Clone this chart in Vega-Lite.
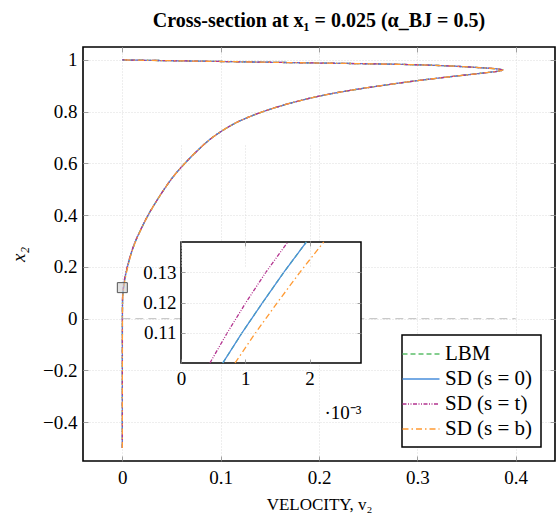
{
  "$schema": "https://vega.github.io/schema/vega-lite/v6.json",
  "width": 472,
  "height": 414,
  "autosize": {"type": "none"},
  "padding": {"left": 83, "top": 47, "right": 3, "bottom": 62},
  "background": "white",
  "title": {
    "text": "Cross-section at x₁ = 0.025 (α_BJ = 0.5)",
    "font": "Liberation Serif",
    "fontSize": 20,
    "fontWeight": "bold",
    "color": "black",
    "anchor": "middle",
    "offset": 16
  },
  "datasets": {
    "profile": [
      {"series": "LBM", "x2": -0.5, "v": 0},
      {"series": "LBM", "x2": -0.4, "v": 0},
      {"series": "LBM", "x2": -0.3, "v": 0.00001},
      {"series": "LBM", "x2": -0.2, "v": 0.00002},
      {"series": "LBM", "x2": -0.1, "v": 0.00004},
      {"series": "LBM", "x2": 0, "v": 0.00007},
      {"series": "LBM", "x2": 0.05, "v": 0.00015},
      {"series": "LBM", "x2": 0.09, "v": 0.00038},
      {"series": "LBM", "x2": 0.1, "v": 0.00065},
      {"series": "LBM", "x2": 0.11, "v": 0.00095},
      {"series": "LBM", "x2": 0.12, "v": 0.00127},
      {"series": "LBM", "x2": 0.13, "v": 0.0016},
      {"series": "LBM", "x2": 0.14, "v": 0.00195},
      {"series": "LBM", "x2": 0.15, "v": 0.00232},
      {"series": "LBM", "x2": 0.2, "v": 0.0052},
      {"series": "LBM", "x2": 0.25, "v": 0.0088},
      {"series": "LBM", "x2": 0.3, "v": 0.0135},
      {"series": "LBM", "x2": 0.35, "v": 0.0195},
      {"series": "LBM", "x2": 0.4, "v": 0.0262},
      {"series": "LBM", "x2": 0.45, "v": 0.034},
      {"series": "LBM", "x2": 0.5, "v": 0.0425},
      {"series": "LBM", "x2": 0.55, "v": 0.052},
      {"series": "LBM", "x2": 0.6, "v": 0.0635},
      {"series": "LBM", "x2": 0.65, "v": 0.0765},
      {"series": "LBM", "x2": 0.7, "v": 0.0915},
      {"series": "LBM", "x2": 0.75, "v": 0.112},
      {"series": "LBM", "x2": 0.78, "v": 0.129},
      {"series": "LBM", "x2": 0.8, "v": 0.143},
      {"series": "LBM", "x2": 0.82, "v": 0.159},
      {"series": "LBM", "x2": 0.84, "v": 0.178},
      {"series": "LBM", "x2": 0.86, "v": 0.2},
      {"series": "LBM", "x2": 0.88, "v": 0.228},
      {"series": "LBM", "x2": 0.9, "v": 0.262},
      {"series": "LBM", "x2": 0.92, "v": 0.3},
      {"series": "LBM", "x2": 0.935, "v": 0.333},
      {"series": "LBM", "x2": 0.945, "v": 0.357},
      {"series": "LBM", "x2": 0.953, "v": 0.375},
      {"series": "LBM", "x2": 0.957, "v": 0.383},
      {"series": "LBM", "x2": 0.961, "v": 0.387},
      {"series": "LBM", "x2": 0.965, "v": 0.382},
      {"series": "LBM", "x2": 0.97, "v": 0.364},
      {"series": "LBM", "x2": 0.976, "v": 0.337},
      {"series": "LBM", "x2": 0.981, "v": 0.302},
      {"series": "LBM", "x2": 0.985, "v": 0.252},
      {"series": "LBM", "x2": 0.988, "v": 0.2},
      {"series": "LBM", "x2": 0.991, "v": 0.15},
      {"series": "LBM", "x2": 0.994, "v": 0.1},
      {"series": "LBM", "x2": 0.997, "v": 0.05},
      {"series": "LBM", "x2": 1, "v": 0},

      {"series": "SD (s = 0)", "x2": -0.5, "v": 0},
      {"series": "SD (s = 0)", "x2": -0.4, "v": 0},
      {"series": "SD (s = 0)", "x2": -0.3, "v": 0.00001},
      {"series": "SD (s = 0)", "x2": -0.2, "v": 0.00002},
      {"series": "SD (s = 0)", "x2": -0.1, "v": 0.00004},
      {"series": "SD (s = 0)", "x2": 0, "v": 0.00007},
      {"series": "SD (s = 0)", "x2": 0.05, "v": 0.00015},
      {"series": "SD (s = 0)", "x2": 0.09, "v": 0.00038},
      {"series": "SD (s = 0)", "x2": 0.1, "v": 0.00065},
      {"series": "SD (s = 0)", "x2": 0.11, "v": 0.00095},
      {"series": "SD (s = 0)", "x2": 0.12, "v": 0.00127},
      {"series": "SD (s = 0)", "x2": 0.13, "v": 0.0016},
      {"series": "SD (s = 0)", "x2": 0.14, "v": 0.00195},
      {"series": "SD (s = 0)", "x2": 0.15, "v": 0.00232},
      {"series": "SD (s = 0)", "x2": 0.2, "v": 0.0052},
      {"series": "SD (s = 0)", "x2": 0.25, "v": 0.0088},
      {"series": "SD (s = 0)", "x2": 0.3, "v": 0.0135},
      {"series": "SD (s = 0)", "x2": 0.35, "v": 0.0195},
      {"series": "SD (s = 0)", "x2": 0.4, "v": 0.0262},
      {"series": "SD (s = 0)", "x2": 0.45, "v": 0.034},
      {"series": "SD (s = 0)", "x2": 0.5, "v": 0.0425},
      {"series": "SD (s = 0)", "x2": 0.55, "v": 0.052},
      {"series": "SD (s = 0)", "x2": 0.6, "v": 0.0635},
      {"series": "SD (s = 0)", "x2": 0.65, "v": 0.0765},
      {"series": "SD (s = 0)", "x2": 0.7, "v": 0.0915},
      {"series": "SD (s = 0)", "x2": 0.75, "v": 0.112},
      {"series": "SD (s = 0)", "x2": 0.78, "v": 0.129},
      {"series": "SD (s = 0)", "x2": 0.8, "v": 0.143},
      {"series": "SD (s = 0)", "x2": 0.82, "v": 0.159},
      {"series": "SD (s = 0)", "x2": 0.84, "v": 0.178},
      {"series": "SD (s = 0)", "x2": 0.86, "v": 0.2},
      {"series": "SD (s = 0)", "x2": 0.88, "v": 0.228},
      {"series": "SD (s = 0)", "x2": 0.9, "v": 0.262},
      {"series": "SD (s = 0)", "x2": 0.92, "v": 0.3},
      {"series": "SD (s = 0)", "x2": 0.935, "v": 0.333},
      {"series": "SD (s = 0)", "x2": 0.945, "v": 0.357},
      {"series": "SD (s = 0)", "x2": 0.953, "v": 0.375},
      {"series": "SD (s = 0)", "x2": 0.957, "v": 0.383},
      {"series": "SD (s = 0)", "x2": 0.961, "v": 0.387},
      {"series": "SD (s = 0)", "x2": 0.965, "v": 0.382},
      {"series": "SD (s = 0)", "x2": 0.97, "v": 0.364},
      {"series": "SD (s = 0)", "x2": 0.976, "v": 0.337},
      {"series": "SD (s = 0)", "x2": 0.981, "v": 0.302},
      {"series": "SD (s = 0)", "x2": 0.985, "v": 0.252},
      {"series": "SD (s = 0)", "x2": 0.988, "v": 0.2},
      {"series": "SD (s = 0)", "x2": 0.991, "v": 0.15},
      {"series": "SD (s = 0)", "x2": 0.994, "v": 0.1},
      {"series": "SD (s = 0)", "x2": 0.997, "v": 0.05},
      {"series": "SD (s = 0)", "x2": 1, "v": 0},

      {"series": "SD (s = t)", "x2": -0.5, "v": 0},
      {"series": "SD (s = t)", "x2": -0.4, "v": 0},
      {"series": "SD (s = t)", "x2": -0.3, "v": 0.00001},
      {"series": "SD (s = t)", "x2": -0.2, "v": 0.00002},
      {"series": "SD (s = t)", "x2": -0.1, "v": 0.00004},
      {"series": "SD (s = t)", "x2": 0, "v": 0.00007},
      {"series": "SD (s = t)", "x2": 0.05, "v": 0.00013},
      {"series": "SD (s = t)", "x2": 0.09, "v": 0.00022},
      {"series": "SD (s = t)", "x2": 0.1, "v": 0.00045},
      {"series": "SD (s = t)", "x2": 0.11, "v": 0.00072},
      {"series": "SD (s = t)", "x2": 0.12, "v": 0.00101},
      {"series": "SD (s = t)", "x2": 0.13, "v": 0.00132},
      {"series": "SD (s = t)", "x2": 0.14, "v": 0.00166},
      {"series": "SD (s = t)", "x2": 0.15, "v": 0.00202},
      {"series": "SD (s = t)", "x2": 0.2, "v": 0.0049},
      {"series": "SD (s = t)", "x2": 0.25, "v": 0.0086},
      {"series": "SD (s = t)", "x2": 0.3, "v": 0.0133},
      {"series": "SD (s = t)", "x2": 0.35, "v": 0.0194},
      {"series": "SD (s = t)", "x2": 0.4, "v": 0.0261},
      {"series": "SD (s = t)", "x2": 0.45, "v": 0.034},
      {"series": "SD (s = t)", "x2": 0.5, "v": 0.0425},
      {"series": "SD (s = t)", "x2": 0.55, "v": 0.052},
      {"series": "SD (s = t)", "x2": 0.6, "v": 0.0635},
      {"series": "SD (s = t)", "x2": 0.65, "v": 0.0765},
      {"series": "SD (s = t)", "x2": 0.7, "v": 0.0915},
      {"series": "SD (s = t)", "x2": 0.75, "v": 0.112},
      {"series": "SD (s = t)", "x2": 0.78, "v": 0.129},
      {"series": "SD (s = t)", "x2": 0.8, "v": 0.143},
      {"series": "SD (s = t)", "x2": 0.82, "v": 0.159},
      {"series": "SD (s = t)", "x2": 0.84, "v": 0.178},
      {"series": "SD (s = t)", "x2": 0.86, "v": 0.2},
      {"series": "SD (s = t)", "x2": 0.88, "v": 0.228},
      {"series": "SD (s = t)", "x2": 0.9, "v": 0.262},
      {"series": "SD (s = t)", "x2": 0.92, "v": 0.3},
      {"series": "SD (s = t)", "x2": 0.935, "v": 0.333},
      {"series": "SD (s = t)", "x2": 0.945, "v": 0.357},
      {"series": "SD (s = t)", "x2": 0.953, "v": 0.375},
      {"series": "SD (s = t)", "x2": 0.957, "v": 0.383},
      {"series": "SD (s = t)", "x2": 0.961, "v": 0.387},
      {"series": "SD (s = t)", "x2": 0.965, "v": 0.382},
      {"series": "SD (s = t)", "x2": 0.97, "v": 0.364},
      {"series": "SD (s = t)", "x2": 0.976, "v": 0.337},
      {"series": "SD (s = t)", "x2": 0.981, "v": 0.302},
      {"series": "SD (s = t)", "x2": 0.985, "v": 0.252},
      {"series": "SD (s = t)", "x2": 0.988, "v": 0.2},
      {"series": "SD (s = t)", "x2": 0.991, "v": 0.15},
      {"series": "SD (s = t)", "x2": 0.994, "v": 0.1},
      {"series": "SD (s = t)", "x2": 0.997, "v": 0.05},
      {"series": "SD (s = t)", "x2": 1, "v": 0},

      {"series": "SD (s = b)", "x2": -0.5, "v": 0},
      {"series": "SD (s = b)", "x2": -0.4, "v": 0},
      {"series": "SD (s = b)", "x2": -0.3, "v": 0.00001},
      {"series": "SD (s = b)", "x2": -0.2, "v": 0.00002},
      {"series": "SD (s = b)", "x2": -0.1, "v": 0.00005},
      {"series": "SD (s = b)", "x2": 0, "v": 0.00009},
      {"series": "SD (s = b)", "x2": 0.05, "v": 0.0002},
      {"series": "SD (s = b)", "x2": 0.09, "v": 0.00055},
      {"series": "SD (s = b)", "x2": 0.1, "v": 0.00084},
      {"series": "SD (s = b)", "x2": 0.11, "v": 0.00116},
      {"series": "SD (s = b)", "x2": 0.12, "v": 0.0015},
      {"series": "SD (s = b)", "x2": 0.13, "v": 0.00185},
      {"series": "SD (s = b)", "x2": 0.14, "v": 0.00222},
      {"series": "SD (s = b)", "x2": 0.15, "v": 0.00262},
      {"series": "SD (s = b)", "x2": 0.2, "v": 0.0055},
      {"series": "SD (s = b)", "x2": 0.25, "v": 0.009},
      {"series": "SD (s = b)", "x2": 0.3, "v": 0.0137},
      {"series": "SD (s = b)", "x2": 0.35, "v": 0.0196},
      {"series": "SD (s = b)", "x2": 0.4, "v": 0.0263},
      {"series": "SD (s = b)", "x2": 0.45, "v": 0.034},
      {"series": "SD (s = b)", "x2": 0.5, "v": 0.0425},
      {"series": "SD (s = b)", "x2": 0.55, "v": 0.052},
      {"series": "SD (s = b)", "x2": 0.6, "v": 0.0635},
      {"series": "SD (s = b)", "x2": 0.65, "v": 0.0765},
      {"series": "SD (s = b)", "x2": 0.7, "v": 0.0915},
      {"series": "SD (s = b)", "x2": 0.75, "v": 0.112},
      {"series": "SD (s = b)", "x2": 0.78, "v": 0.129},
      {"series": "SD (s = b)", "x2": 0.8, "v": 0.143},
      {"series": "SD (s = b)", "x2": 0.82, "v": 0.159},
      {"series": "SD (s = b)", "x2": 0.84, "v": 0.178},
      {"series": "SD (s = b)", "x2": 0.86, "v": 0.2},
      {"series": "SD (s = b)", "x2": 0.88, "v": 0.228},
      {"series": "SD (s = b)", "x2": 0.9, "v": 0.262},
      {"series": "SD (s = b)", "x2": 0.92, "v": 0.3},
      {"series": "SD (s = b)", "x2": 0.935, "v": 0.333},
      {"series": "SD (s = b)", "x2": 0.945, "v": 0.357},
      {"series": "SD (s = b)", "x2": 0.953, "v": 0.375},
      {"series": "SD (s = b)", "x2": 0.957, "v": 0.383},
      {"series": "SD (s = b)", "x2": 0.961, "v": 0.387},
      {"series": "SD (s = b)", "x2": 0.965, "v": 0.382},
      {"series": "SD (s = b)", "x2": 0.97, "v": 0.364},
      {"series": "SD (s = b)", "x2": 0.976, "v": 0.337},
      {"series": "SD (s = b)", "x2": 0.981, "v": 0.302},
      {"series": "SD (s = b)", "x2": 0.985, "v": 0.252},
      {"series": "SD (s = b)", "x2": 0.988, "v": 0.2},
      {"series": "SD (s = b)", "x2": 0.991, "v": 0.15},
      {"series": "SD (s = b)", "x2": 0.994, "v": 0.1},
      {"series": "SD (s = b)", "x2": 0.997, "v": 0.05},
      {"series": "SD (s = b)", "x2": 1, "v": 0}
    ]
  },
  "config": {
    "font": "Liberation Serif",
    "view": {"stroke": "black", "strokeWidth": 1.6},
    "axis": {
      "labelFont": "Liberation Serif",
      "labelFontSize": 19,
      "labelColor": "black",
      "labelFlush": false,
      "labelOverlap": false,
      "titleFont": "Liberation Serif",
      "titleFontSize": 19,
      "titleFontWeight": "normal",
      "titleColor": "black",
      "domain": false,
      "tickColor": "#8a8a8a",
      "tickSize": -5,
      "tickWidth": 0.8,
      "gridColor": "#d4d4d4",
      "gridDash": [1, 2],
      "gridWidth": 0.8
    },
    "legend": {
      "orient": "bottom-right",
      "offset": 14,
      "strokeColor": "black",
      "strokeWidth": 1.5,
      "fillColor": "white",
      "padding": 8,
      "cornerRadius": 0,
      "labelFont": "Liberation Serif",
      "labelFontSize": 21,
      "labelColor": "black",
      "labelOffset": 13,
      "rowPadding": 4,
      "symbolSize": 400,
      "symbolStrokeWidth": 1.3
    }
  },
  "resolve": {"scale": {"x": "independent", "y": "independent"}},
  "layer": [
    {
      "resolve": {"axis": {"x": "independent", "y": "independent"}},
      "layer": [
        {
          "data": {"name": "profile"},
          "mark": {"type": "line", "strokeWidth": 1.3, "interpolate": "catmull-rom"},
          "encoding": {
            "x": {
              "field": "v",
              "type": "quantitative",
              "scale": {"domain": [-0.04, 0.44], "nice": false, "zero": false},
              "axis": {
                "orient": "bottom",
                "values": [0, 0.1, 0.2, 0.3, 0.4],
                "format": "~g",
                "grid": true,
                "labelPadding": 12,
                "title": "VELOCITY, v₂",
                "titleFontSize": 17,
                "titlePadding": 9
              }
            },
            "y": {
              "field": "x2",
              "type": "quantitative",
              "scale": {"domain": [-0.55, 1.05], "nice": false, "zero": false},
              "axis": {
                "orient": "left",
                "values": [-0.4, -0.2, 0, 0.2, 0.4, 0.6, 0.8, 1],
                "format": "~g",
                "grid": true,
                "labelPadding": 11,
                "title": "x₂",
                "titleFontStyle": "italic",
                "titlePadding": 14
              }
            },
            "color": {
              "field": "series",
              "type": "nominal",
              "scale": {
                "domain": ["LBM", "SD (s = 0)", "SD (s = t)", "SD (s = b)"],
                "range": ["#5cbf6a", "#4a8fdc", "#b3338f", "#ff9a33"]
              },
              "legend": {"title": null, "symbolType": "M-1.85,0H1.85", "symbolSize": 400}
            },
            "strokeDash": {
              "field": "series",
              "type": "nominal",
              "scale": {
                "domain": ["LBM", "SD (s = 0)", "SD (s = t)", "SD (s = b)"],
                "range": [[5, 3], [1, 0], [4, 1.5, 1, 1.5, 1, 1.5], [6, 3, 1.5, 3]]
              },
              "legend": {"title": null, "symbolType": "M-1.85,0H1.85", "symbolSize": 400}
            },
            "order": {"field": "x2", "type": "quantitative"}
          }
        },
        {
          "data": {"values": [{}]},
          "mark": {"type": "rule", "color": "#bdbdbd", "strokeDash": [8, 5], "strokeWidth": 1},
          "encoding": {
            "x": {
              "datum": 0,
              "type": "quantitative",
              "axis": {"orient": "top", "values": [0, 0.1, 0.2, 0.3, 0.4], "labels": false, "grid": false, "title": null}
            },
            "x2": {"datum": 0.4},
            "y": {
              "datum": 0,
              "type": "quantitative",
              "axis": {"orient": "right", "values": [-0.4, -0.2, 0, 0.2, 0.4, 0.6, 0.8, 1], "labels": false, "grid": false, "title": null}
            }
          }
        },
        {
          "data": {"values": [{}]},
          "mark": {"type": "point", "shape": "square", "size": 100, "filled": true, "fill": "#cfcfcf", "fillOpacity": 0.6, "stroke": "#555555", "strokeWidth": 1, "strokeOpacity": 1},
          "encoding": {
            "x": {"datum": 0, "type": "quantitative", "axis": null},
            "y": {"datum": 0.12, "type": "quantitative", "axis": null}
          }
        }
      ]
    },
    {
      "resolve": {"axis": {"x": "independent", "y": "independent"}},
      "layer": [
        {
          "data": {"values": [{}]},
          "mark": {"type": "rect", "fill": "white", "stroke": "black", "strokeWidth": 1.5},
          "encoding": {
            "x": {
              "datum": 0,
              "type": "quantitative",
              "scale": {"domain": [0, 0.0028], "range": [98, 278], "nice": false, "zero": false},
              "axis": {
                "orient": "bottom",
                "offset": -98,
                "values": [0, 0.001, 0.002],
                "labelExpr": "format(datum.value * 1000, 'd')",
                "grid": true,
                "tickSize": -4,
                "labelPadding": 10,
                "title": "·10⁻³",
                "titleAnchor": "end",
                "titlePadding": 15,
                "zindex": 1
              }
            },
            "x2": {"datum": 0.0028},
            "y": {
              "datum": 0.1,
              "type": "quantitative",
              "scale": {"domain": [0.1, 0.14], "range": [316, 195], "nice": false, "zero": false},
              "axis": {
                "orient": "left",
                "offset": -98,
                "values": [0.11, 0.12, 0.13],
                "format": ".2f",
                "grid": true,
                "tickSize": -4,
                "labelPadding": 9,
                "title": null,
                "zindex": 1
              }
            },
            "y2": {"datum": 0.14}
          }
        },
        {
          "data": {"name": "profile"},
          "transform": [{"filter": {"field": "x2", "range": [0.1, 0.14]}}],
          "mark": {"type": "line", "strokeWidth": 1.3},
          "encoding": {
            "x": {
              "field": "v",
              "type": "quantitative",
              "axis": {"orient": "top", "offset": -195, "values": [0, 0.001, 0.002], "labels": false, "grid": false, "tickSize": -4, "title": null, "zindex": 1}
            },
            "y": {
              "field": "x2",
              "type": "quantitative",
              "axis": {"orient": "right", "offset": -194, "values": [0.11, 0.12, 0.13], "labels": false, "grid": false, "tickSize": -4, "title": null, "zindex": 1}
            },
            "color": {"field": "series", "type": "nominal"},
            "strokeDash": {"field": "series", "type": "nominal"},
            "order": {"field": "x2", "type": "quantitative"}
          }
        }
      ]
    }
  ]
}
